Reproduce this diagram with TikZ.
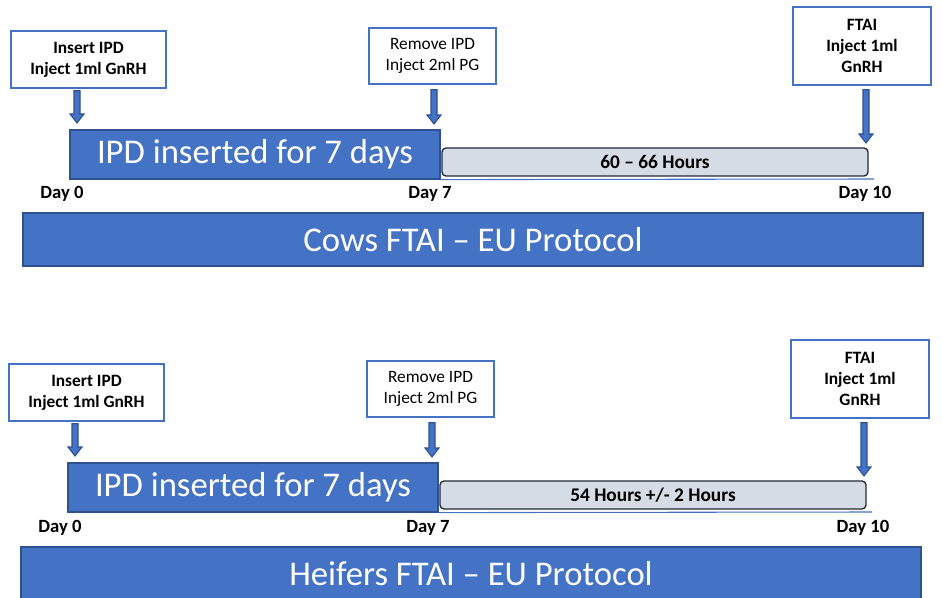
\documentclass[tikz,border=0pt]{standalone}
\usepackage{fontspec}
\setmainfont{Carlito}
\usetikzlibrary{calc}

\definecolor{pptblue}{HTML}{4472C4}
\definecolor{pptdark}{HTML}{2F528F}
\definecolor{pptgray}{HTML}{D6DCE5}
\definecolor{pptnavy}{HTML}{222A35}

% block arrow pointing down, from #1 (top of shaft) to #2 (tip)
\newcommand{\blockdown}[2]{%
  \draw[arrowblk] ($(#1)+(-3,0)$) -- ($(#2)+(-3,-9)$) -- ($(#2)+(-7,-9)$)
    -- (#2) -- ($(#2)+(7,-9)$) -- ($(#2)+(3,-9)$) -- ($(#1)+(3,0)$) -- cycle;}

\begin{document}
\begin{tikzpicture}[x=0.75pt,y=-0.75pt,
    stepnote/.style={draw=pptblue, line width=1.1pt, fill=white, align=center,
      inner sep=0pt, font=\fontsize{13}{15.75}\selectfont},
    boldnote/.style={stepnote, font=\bfseries\fontsize{13}{15.75}\selectfont},
    ipdbar/.style={draw=pptdark, fill=pptblue, line width=0.9pt, text=white,
      inner sep=0pt, font=\fontsize{26}{30}\selectfont},
    hourbar/.style={draw=pptnavy, fill=pptgray, rounded corners=3pt, line width=1pt,
      inner sep=0pt, font=\bfseries\fontsize{14.5}{16}\selectfont},
    daylabel/.style={font=\bfseries\fontsize{14}{16}\selectfont},
    arrowblk/.style={draw=pptdark, fill=pptblue, line width=0.8pt},
    baseline/.style={draw=pptblue, line width=0.8pt}]

    \useasboundingbox (0,0) rectangle (942,598);

    % ===== COWS PROTOCOL (top) =====
    \begin{scope}
        % Boxes with the treatment steps
        \node[boldnote, minimum width=116.25pt, minimum height=42.75pt] (cowIns) at (88.5,59.5) {Insert IPD\\Inject 1ml GnRH};
        \node[stepnote, minimum width=95.25pt, minimum height=42pt] (cowRem) at (432.5,56) {Remove IPD\\Inject 2ml PG};
        \node[boldnote, minimum width=103.5pt, minimum height=58.5pt] (cowAI) at (862,46) {FTAI\\Inject 1ml\\GnRH};

        % IPD bar and the hours bar
        \node[ipdbar, minimum width=277.5pt, minimum height=36.75pt] (cowIPD) at (255,154.5) {IPD inserted for 7 days};
        \node[hourbar, minimum width=319.5pt, minimum height=21pt] (cowHrs) at (655,162) {60 -- 66 Hours};
        \coordinate (cowEnd) at (874,179);
        \draw[baseline] (cowIPD.south east) -- (cowEnd);

        % Day labels
        \node[daylabel] (cowD0) at (62,194) {Day 0};
        \node[daylabel] (cowD7) at (430,194) {Day 7};
        \node[daylabel] (cowD10) at (865,194) {Day 10};

        % --- ARROWS ---
        \coordinate (cowTipA) at (77,123);
        \coordinate (cowTipB) at (434,124);
        \coordinate (cowTipC) at (866,143);
        \coordinate (cowTopA) at ($(cowIns.south -| cowTipA)+(0,2)$);
        \coordinate (cowTopB) at ($(cowRem.south -| cowTipB)+(0,5)$);
        \coordinate (cowTopC) at ($(cowAI.south -| cowTipC)+(0,4)$);
        \blockdown{cowTopA}{cowTipA}
        \blockdown{cowTopB}{cowTipB}
        \blockdown{cowTopC}{cowTipC}

        % Title banner
        \node[ipdbar, minimum width=675pt, minimum height=39.75pt] (cowTitle) at (473,239.5) {Cows FTAI -- EU Protocol};
    \end{scope}

    % ===== HEIFERS PROTOCOL (bottom) =====
    \begin{scope}[shift={(-2,333)}]
        \node[boldnote, minimum width=116.25pt, minimum height=42.75pt] (hfIns) at (88.5,59.5) {Insert IPD\\Inject 1ml GnRH};
        \node[stepnote, minimum width=95.25pt, minimum height=42pt] (hfRem) at (432.5,56) {Remove IPD\\Inject 2ml PG};
        \node[boldnote, minimum width=103.5pt, minimum height=58.5pt] (hfAI) at (862,46) {FTAI\\Inject 1ml\\GnRH};

        \node[ipdbar, minimum width=277.5pt, minimum height=36.75pt] (hfIPD) at (255,154.5) {IPD inserted for 7 days};
        \node[hourbar, minimum width=319.5pt, minimum height=21pt] (hfHrs) at (655,162) {54 Hours +/- 2 Hours};
        \coordinate (hfEnd) at (874,179);
        \draw[baseline] (hfIPD.south east) -- (hfEnd);

        \node[daylabel] (hfD0) at (62,195) {Day 0};
        \node[daylabel] (hfD7) at (430,195) {Day 7};
        \node[daylabel] (hfD10) at (865,195) {Day 10};

        \coordinate (hfTipA) at (77,123);
        \coordinate (hfTipB) at (434,124);
        \coordinate (hfTipC) at (866,143);
        \coordinate (hfTopA) at ($(hfIns.south -| hfTipA)+(0,2)$);
        \coordinate (hfTopB) at ($(hfRem.south -| hfTipB)+(0,5)$);
        \coordinate (hfTopC) at ($(hfAI.south -| hfTipC)+(0,4)$);
        \blockdown{hfTopA}{hfTipA}
        \blockdown{hfTopB}{hfTipB}
        \blockdown{hfTopC}{hfTipC}

        \node[ipdbar, minimum width=675pt, minimum height=39.75pt] (hfTitle) at (473,240.5) {Heifers FTAI -- EU Protocol};
    \end{scope}

\end{tikzpicture}
\end{document}
